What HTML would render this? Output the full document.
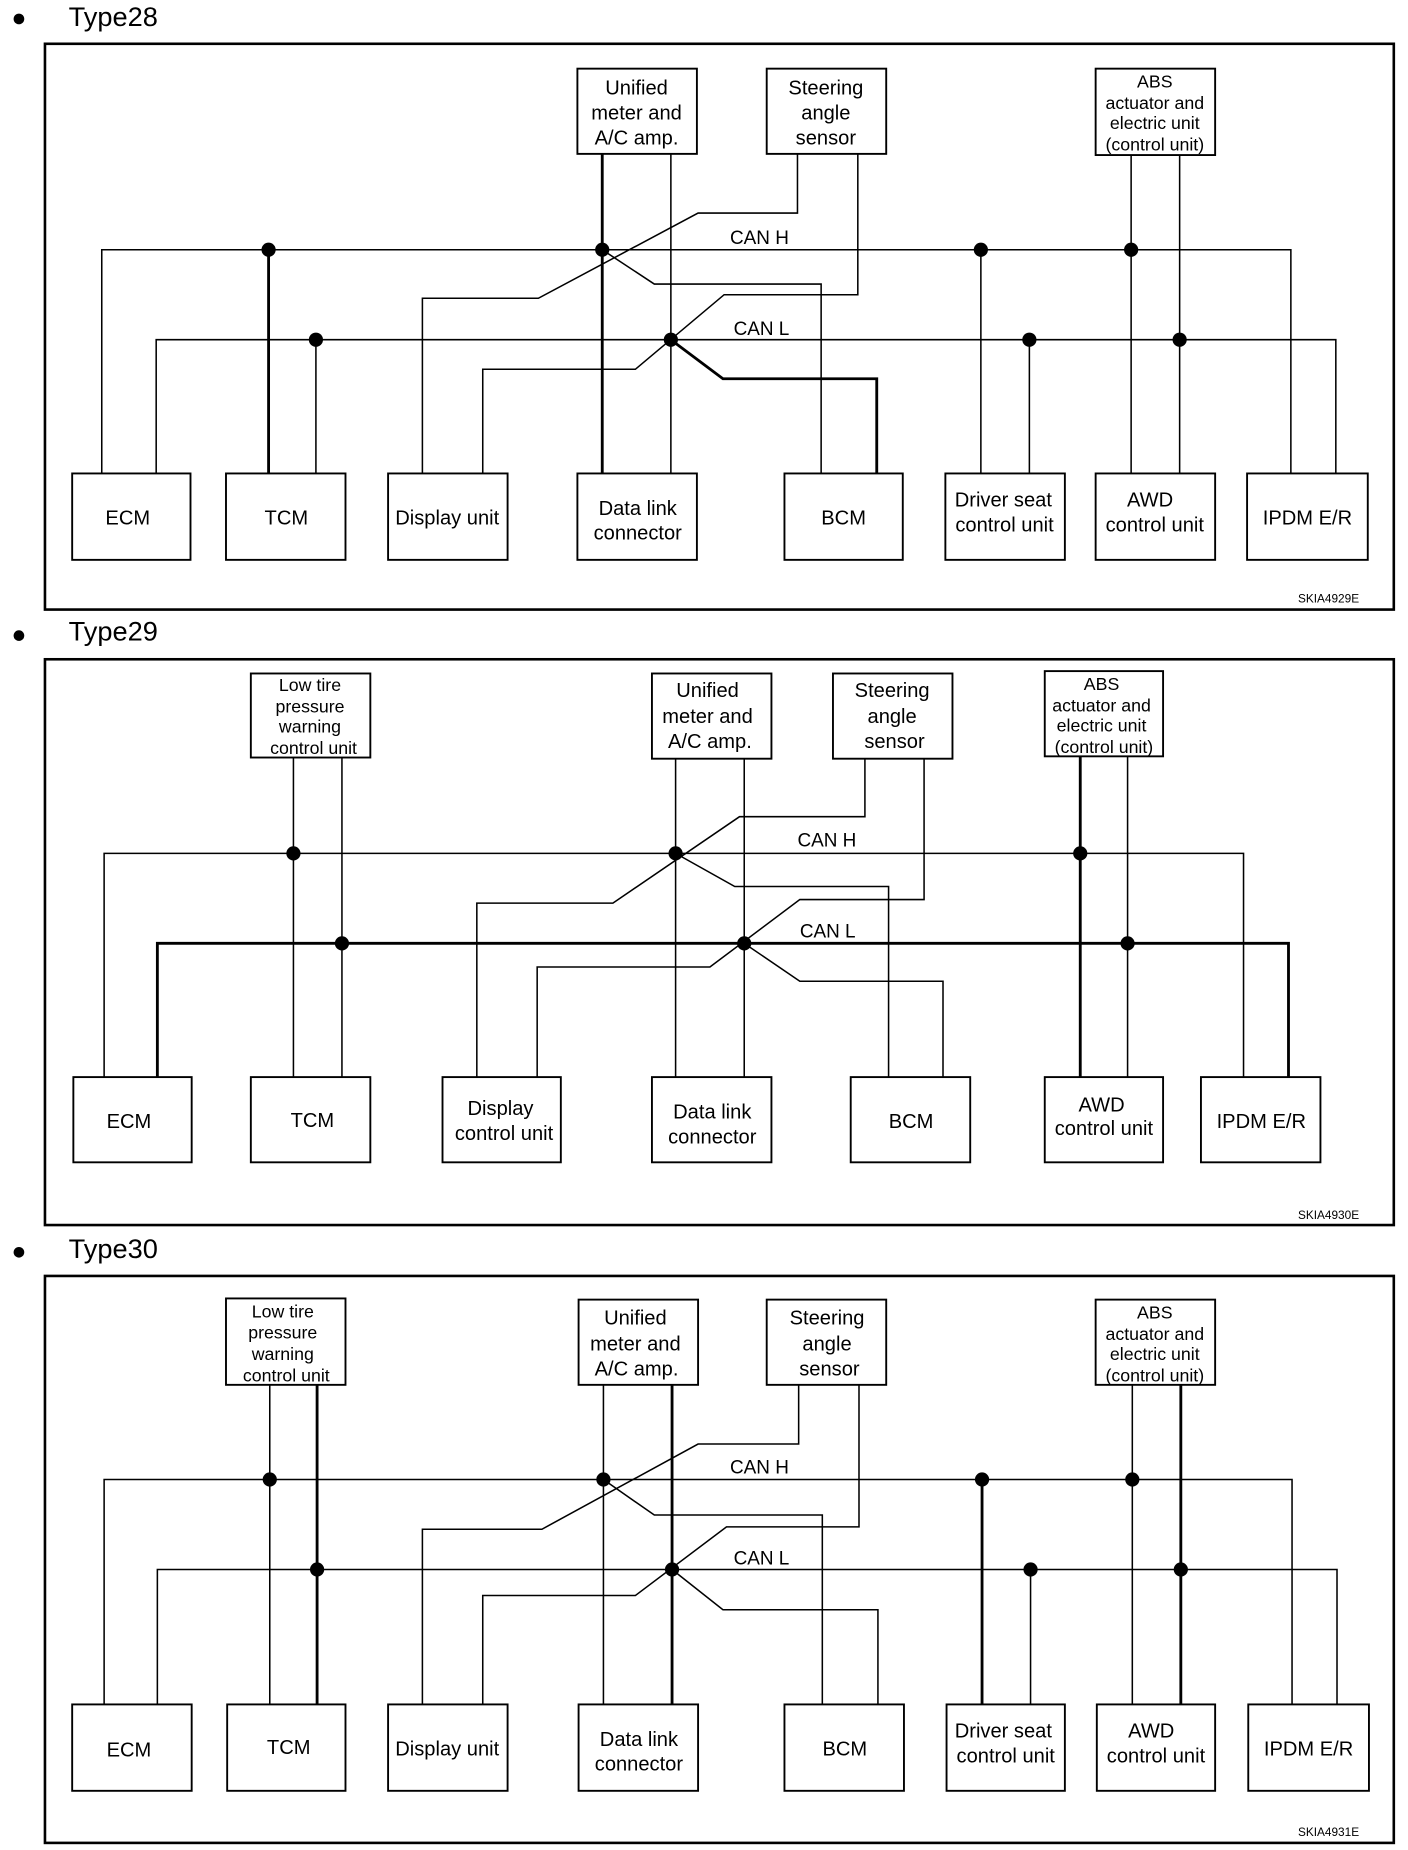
<!DOCTYPE html>
<html><head><meta charset="utf-8"><style>
html,body{margin:0;padding:0;background:#fff;}
svg{display:block;}
text{font-family:"Liberation Sans",sans-serif;fill:#000;}
.t{font-size:17px;text-anchor:middle;}
.s{font-size:15px;text-anchor:middle;}
.h{font-size:23px;}
.c{font-size:16px;}
.k{font-size:10px;}
.w{fill:none;stroke:#000;stroke-width:1.3;}
.W{fill:none;stroke:#000;stroke-width:2.4;}
.b{fill:#fff;stroke:#000;stroke-width:1.6;}
.f{fill:none;stroke:#000;stroke-width:2.2;}
</style></head><body>
<svg width="1408" height="1850" viewBox="0 0 1190 1563" preserveAspectRatio="none" xmlns="http://www.w3.org/2000/svg">
<rect width="1190" height="1563" fill="#fff"/>

<!-- ===== Type28 ===== -->
<circle cx="16" cy="16" r="4.5"/>
<text x="58" y="22" class="h">Type28</text>
<rect x="38" y="37" width="1140" height="478" class="f"/>
<!-- buses -->
<path class="w" d="M86 400V211H1091V400"/>
<path class="w" d="M132 400V287H1129V400"/>
<!-- TCM -->
<path class="W" d="M227 211V400"/><path class="w" d="M267 287V400"/>
<!-- Unified -> Data link -->
<path class="W" d="M509 130V400"/><path class="w" d="M567 130V400"/>
<!-- Steering -->
<path class="w" d="M674 130V180H590L455 252H357V400"/>
<path class="w" d="M725 130V249H612L537 312H408V400"/>
<!-- BCM -->
<path class="w" d="M509 211L553 240H694V400"/>
<path class="W" d="M567 287L611 320H741V400"/>
<!-- Driver -->
<path class="w" d="M829 211V400"/><path class="w" d="M870 287V400"/>
<!-- ABS/AWD -->
<path class="w" d="M956 131V400"/><path class="w" d="M997 131V400"/>
<g>
<circle cx="227" cy="211" r="6"/><circle cx="509" cy="211" r="6"/><circle cx="829" cy="211" r="6"/><circle cx="956" cy="211" r="6"/>
<circle cx="267" cy="287" r="6"/><circle cx="567" cy="287" r="6"/><circle cx="870" cy="287" r="6"/><circle cx="997" cy="287" r="6"/>
</g>
<text x="617" y="206" class="c">CAN H</text>
<text x="620" y="283" class="c">CAN L</text>
<!-- top boxes -->
<rect x="488" y="58" width="101" height="72" class="b"/>
<text x="538" y="80" class="t">Unified</text><text x="538" y="101" class="t">meter and</text><text x="538" y="122" class="t">A/C amp.</text>
<rect x="648" y="58" width="101" height="72" class="b"/>
<text x="698" y="80" class="t">Steering</text><text x="698" y="101" class="t">angle</text><text x="698" y="122" class="t">sensor</text>
<rect x="926" y="58" width="101" height="73" class="b"/>
<text x="976" y="74" class="s">ABS</text><text x="976" y="92" class="s">actuator and</text><text x="976" y="109" class="s">electric unit</text><text x="976" y="127" class="s">(control unit)</text>
<!-- bottom boxes -->
<rect x="61" y="400" width="100" height="73" class="b"/><text x="108" y="443" class="t">ECM</text>
<rect x="191" y="400" width="101" height="73" class="b"/><text x="242" y="443" class="t">TCM</text>
<rect x="328" y="400" width="101" height="73" class="b"/><text x="378" y="443" class="t">Display unit</text>
<rect x="488" y="400" width="101" height="73" class="b"/><text x="539" y="435" class="t">Data link</text><text x="539" y="456" class="t">connector</text>
<rect x="663" y="400" width="100" height="73" class="b"/><text x="713" y="443" class="t">BCM</text>
<rect x="799" y="400" width="101" height="73" class="b"/><text x="848" y="428" class="t">Driver seat</text><text x="849" y="449" class="t">control unit</text>
<rect x="926" y="400" width="101" height="73" class="b"/><text x="972" y="428" class="t">AWD</text><text x="976" y="449" class="t">control unit</text>
<rect x="1054" y="400" width="102" height="73" class="b"/><text x="1105" y="443" class="t">IPDM E/R</text>
<text x="1097" y="509" class="k">SKIA4929E</text>

<!-- ===== Type29 ===== -->
<circle cx="16" cy="537" r="4.5"/>
<text x="58" y="541" class="h">Type29</text>
<rect x="38" y="557" width="1140" height="478" class="f"/>
<path class="w" d="M88 910V721H1051V910"/>
<path class="W" d="M133 910V797H1089V910"/>
<path class="w" d="M248 640V910"/><path class="w" d="M289 640V910"/>
<path class="w" d="M571 641V910"/><path class="w" d="M629 641V910"/>
<path class="w" d="M731 641V690H625L518 763H403V910"/>
<path class="w" d="M781 641V760H676L600 817H454V910"/>
<path class="w" d="M571 721L621 749H751V910"/>
<path class="w" d="M629 797L676 829H797V910"/>
<path class="W" d="M913 639V910"/><path class="w" d="M953 639V910"/>
<g>
<circle cx="248" cy="721" r="6"/><circle cx="571" cy="721" r="6"/><circle cx="913" cy="721" r="6"/>
<circle cx="289" cy="797" r="6"/><circle cx="629" cy="797" r="6"/><circle cx="953" cy="797" r="6"/>
</g>
<text x="674" y="715" class="c">CAN H</text>
<text x="676" y="792" class="c">CAN L</text>
<rect x="212" y="569" width="101" height="71" class="b"/>
<text x="262" y="584" class="s">Low tire</text><text x="262" y="602" class="s">pressure</text><text x="262" y="619" class="s">warning</text><text x="265" y="637" class="s">control unit</text>
<rect x="551" y="569" width="101" height="72" class="b"/>
<text x="598" y="589" class="t">Unified</text><text x="598" y="611" class="t">meter and</text><text x="600" y="632" class="t">A/C amp.</text>
<rect x="704" y="569" width="101" height="72" class="b"/>
<text x="754" y="589" class="t">Steering</text><text x="754" y="611" class="t">angle</text><text x="756" y="632" class="t">sensor</text>
<rect x="883" y="567" width="100" height="72" class="b"/>
<text x="931" y="583" class="s">ABS</text><text x="931" y="601" class="s">actuator and</text><text x="931" y="618" class="s">electric unit</text><text x="933" y="636" class="s">(control unit)</text>
<rect x="62" y="910" width="100" height="72" class="b"/><text x="109" y="953" class="t">ECM</text>
<rect x="212" y="910" width="101" height="72" class="b"/><text x="264" y="952" class="t">TCM</text>
<rect x="374" y="910" width="100" height="72" class="b"/><text x="423" y="942" class="t">Display</text><text x="426" y="963" class="t">control unit</text>
<rect x="551" y="910" width="101" height="72" class="b"/><text x="602" y="945" class="t">Data link</text><text x="602" y="966" class="t">connector</text>
<rect x="719" y="910" width="101" height="72" class="b"/><text x="770" y="953" class="t">BCM</text>
<rect x="883" y="910" width="100" height="72" class="b"/><text x="931" y="939" class="t">AWD</text><text x="933" y="959" class="t">control unit</text>
<rect x="1015" y="910" width="101" height="72" class="b"/><text x="1066" y="953" class="t">IPDM E/R</text>
<text x="1097" y="1030" class="k">SKIA4930E</text>

<!-- ===== Type30 ===== -->
<circle cx="16" cy="1058" r="4.5"/>
<text x="58" y="1063" class="h">Type30</text>
<rect x="38" y="1078" width="1140" height="479" class="f"/>
<path class="w" d="M88 1440V1250H1092V1440"/>
<path class="w" d="M133 1440V1326H1130V1440"/>
<path class="w" d="M228 1170V1440"/><path class="W" d="M268 1170V1440"/>
<path class="w" d="M510 1170V1440"/><path class="W" d="M568 1170V1440"/>
<path class="w" d="M675 1170V1220H590L458 1292H357V1440"/>
<path class="w" d="M726 1170V1290H614L537 1348H408V1440"/>
<path class="w" d="M510 1250L553 1280H695V1440"/>
<path class="w" d="M568 1326L611 1360H742V1440"/>
<path class="W" d="M830 1250V1440"/><path class="w" d="M871 1326V1440"/>
<path class="w" d="M957 1170V1440"/><path class="W" d="M998 1170V1440"/>
<g>
<circle cx="228" cy="1250" r="6"/><circle cx="510" cy="1250" r="6"/><circle cx="830" cy="1250" r="6"/><circle cx="957" cy="1250" r="6"/>
<circle cx="268" cy="1326" r="6"/><circle cx="568" cy="1326" r="6"/><circle cx="871" cy="1326" r="6"/><circle cx="998" cy="1326" r="6"/>
</g>
<text x="617" y="1245" class="c">CAN H</text>
<text x="620" y="1322" class="c">CAN L</text>
<rect x="191" y="1097" width="101" height="73" class="b"/>
<text x="239" y="1113" class="s">Low tire</text><text x="239" y="1131" class="s">pressure</text><text x="239" y="1149" class="s">warning</text><text x="242" y="1167" class="s">control unit</text>
<rect x="489" y="1098" width="101" height="72" class="b"/>
<text x="537" y="1119" class="t">Unified</text><text x="537" y="1141" class="t">meter and</text><text x="538" y="1162" class="t">A/C amp.</text>
<rect x="648" y="1098" width="101" height="72" class="b"/>
<text x="699" y="1119" class="t">Steering</text><text x="699" y="1141" class="t">angle</text><text x="701" y="1162" class="t">sensor</text>
<rect x="926" y="1098" width="101" height="72" class="b"/>
<text x="976" y="1114" class="s">ABS</text><text x="976" y="1132" class="s">actuator and</text><text x="976" y="1149" class="s">electric unit</text><text x="976" y="1167" class="s">(control unit)</text>
<rect x="61" y="1440" width="101" height="73" class="b"/><text x="109" y="1484" class="t">ECM</text>
<rect x="192" y="1440" width="100" height="73" class="b"/><text x="244" y="1482" class="t">TCM</text>
<rect x="328" y="1440" width="101" height="73" class="b"/><text x="378" y="1483" class="t">Display unit</text>
<rect x="489" y="1440" width="101" height="73" class="b"/><text x="540" y="1475" class="t">Data link</text><text x="540" y="1496" class="t">connector</text>
<rect x="663" y="1440" width="101" height="73" class="b"/><text x="714" y="1483" class="t">BCM</text>
<rect x="800" y="1440" width="100" height="73" class="b"/><text x="848" y="1468" class="t">Driver seat</text><text x="850" y="1489" class="t">control unit</text>
<rect x="927" y="1440" width="100" height="73" class="b"/><text x="973" y="1468" class="t">AWD</text><text x="977" y="1489" class="t">control unit</text>
<rect x="1055" y="1440" width="102" height="73" class="b"/><text x="1106" y="1483" class="t">IPDM E/R</text>
<text x="1097" y="1551" class="k">SKIA4931E</text>
</svg>
</body></html>
